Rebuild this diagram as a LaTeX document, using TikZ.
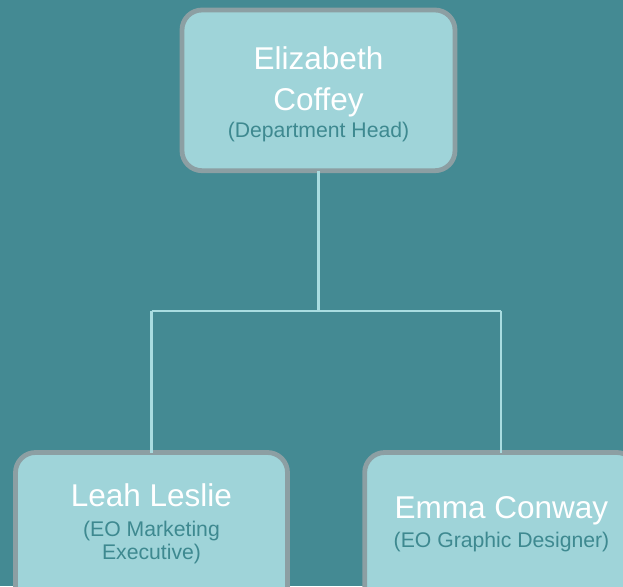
\documentclass[tikz,border=0pt]{standalone}
\usepackage{fontspec}
\setmainfont{Liberation Sans}
\definecolor{bgteal}{HTML}{448A93}
\definecolor{boxfill}{HTML}{9FD4D9}
\definecolor{boxrim}{HTML}{8C9FA3}
\definecolor{subtext}{HTML}{3E8990}
\definecolor{wire}{HTML}{A9DCE0}
\tikzset{
  person/.style={draw=boxrim, fill=boxfill, line width=4.8pt, rounded corners=20pt},
  namefont/.style={anchor=base, inner sep=0pt, text=white, font=\fontsize{31.5}{38}\selectfont},
  rolefont/.style={anchor=base, inner sep=0pt, text=subtext, font=\fontsize{21.2}{24}\selectfont},
  link/.style={draw=wire, line width=2.2pt}
}
\begin{document}
\begin{tikzpicture}[x=1pt, y=-1pt]
  \useasboundingbox (0,0) rectangle (623,586);
  \clip (0,0) rectangle (623,586);
  \fill[bgteal] (0,0) rectangle (623,586);

  % boxes
  \path[person] (182,10) rectangle (455,170.7);
  \path[person] (15.5,452.5) rectangle (287.5,613.5);
  \path[person] (364.7,452.5) rectangle (636.7,613.5);

  % anchor points for the boxes
  \coordinate (head) at (318.5,170.7);
  \coordinate (leah) at (151.5,452.5);
  \coordinate (emma) at (500.7,452.5);
  \coordinate (split) at (318.5,311.3);

  % connectors
  \draw[link] (head) -- (split);
  \draw[link] (leah |- split) -- (emma |- split);
  \draw[link] (leah |- split) -- (leah);
  \draw[link] (emma |- split) -- (emma);

  % texts
  \node[namefont] (n1a) at (318.5,70) {Elizabeth};
  \node[namefont] (n1b) at (318.5,110) {Coffey};
  \node[rolefont] (r1) at (318.5,137.3) {(Department Head)};

  \node[namefont] (n2) at (151.5,506.7) {Leah Leslie};
  \node[rolefont] (r2a) at (151.5,536.7) {(EO Marketing};
  \node[rolefont] (r2b) at (151.5,559.3) {Executive)};

  \node[namefont] (n3) at (501.5,518) {Emma Conway};
  \node[rolefont] (r3) at (501.5,547) {(EO Graphic Designer)};
\end{tikzpicture}
\end{document}
